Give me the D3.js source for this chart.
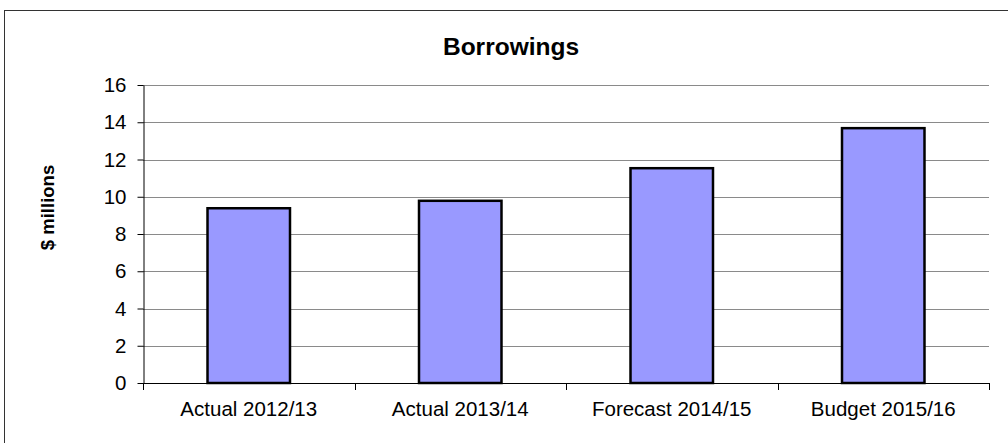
<!DOCTYPE html>
<html>
<head>
<meta charset="utf-8">
<script src="https://cdn.jsdelivr.net/npm/d3@7"></script>
<style>
  html, body { margin: 0; padding: 0; background: #fff; }
  svg { display: block; font-family: "Liberation Sans", Arial, sans-serif; }
</style>
</head>
<body>
<svg id="chart" width="1008" height="443"></svg>
<script>
// Borrowings by year, $ millions
const categories = ["Actual 2012/13", "Actual 2013/14", "Forecast 2014/15", "Budget 2015/16"];
const borrowings = [9.45, 9.85, 11.6, 13.75];
const yTicks = [0, 2, 4, 6, 8, 10, 12, 14, 16];

const svg = d3.select("#chart");
const plot = { left: 143, right: 989, top: 85, bottom: 383 };

// Chart-area frame
svg.append("rect")
  .attr("x", 4.5).attr("y", 10.5)
  .attr("width", 1100).attr("height", 600)
  .attr("fill", "#fff")
  .attr("stroke", "#333").attr("stroke-width", 1);

const x = d3.scaleBand()
  .domain(categories)
  .range([plot.left, plot.right])
  .paddingInner(0.61)
  .paddingOuter(0.305);

const y = d3.scaleLinear()
  .domain([0, 16])
  .range([plot.bottom, plot.top]);

// Horizontal gridlines
svg.append("g")
  .selectAll("line")
  .data(yTicks.filter(t => t > 0))
  .join("line")
  .attr("x1", plot.left).attr("x2", plot.right)
  .attr("y1", d => Math.round(y(d)) + 0.5)
  .attr("y2", d => Math.round(y(d)) + 0.5)
  .attr("stroke", "#8a8a8a").attr("stroke-width", 1);

// Bars
svg.append("g")
  .selectAll("rect")
  .data(borrowings)
  .join("rect")
  .attr("x", (d, i) => x(categories[i]))
  .attr("width", x.bandwidth())
  .attr("y", d => y(d) + 1.25)
  .attr("height", d => y(0) - y(d) - 1.25)
  .attr("fill", "#9999ff")
  .attr("stroke", "#000")
  .attr("stroke-width", 2.5);

// Y axis
const yAxis = svg.append("g")
  .attr("transform", `translate(${plot.left + 0.5},0)`)
  .call(d3.axisLeft(y).tickValues(yTicks).tickSize(6).tickPadding(11).tickSizeOuter(0));
yAxis.select(".domain").attr("stroke", "#000");
yAxis.selectAll(".tick line").attr("stroke", "#000");
yAxis.selectAll(".tick text")
  .attr("font-size", 20.5)
  .attr("font-family", "Liberation Sans, Arial, sans-serif")
  .attr("fill", "#000");

// X axis with ticks at category boundaries
const boundaries = categories.map(c => x(c) - x.step() * x.paddingInner() / 2)
  .concat([plot.right]);
const xAxisG = svg.append("g");
xAxisG.append("line")
  .attr("x1", plot.left).attr("x2", plot.right)
  .attr("y1", plot.bottom + 0.5).attr("y2", plot.bottom + 0.5)
  .attr("stroke", "#000");
xAxisG.selectAll("line.tk")
  .data(boundaries)
  .join("line")
  .attr("class", "tk")
  .attr("x1", d => Math.round(d) + 0.5).attr("x2", d => Math.round(d) + 0.5)
  .attr("y1", plot.bottom).attr("y2", plot.bottom + 7)
  .attr("stroke", "#000");
xAxisG.selectAll("text")
  .data(categories)
  .join("text")
  .attr("x", d => x(d) + x.bandwidth() / 2)
  .attr("y", 415.5)
  .attr("text-anchor", "middle")
  .attr("font-size", 20.5)
  .attr("fill", "#000")
  .text(d => d);

// Title
svg.append("text")
  .attr("x", 511).attr("y", 54.5)
  .attr("text-anchor", "middle")
  .attr("font-size", 24.5)
  .attr("font-weight", "bold")
  .text("Borrowings");

// Y axis title
svg.append("text")
  .attr("transform", "translate(54,207.5) rotate(-90)")
  .attr("text-anchor", "middle")
  .attr("font-size", 18.5)
  .attr("font-weight", "bold")
  .text("$ millions");
</script>
</body>
</html>
